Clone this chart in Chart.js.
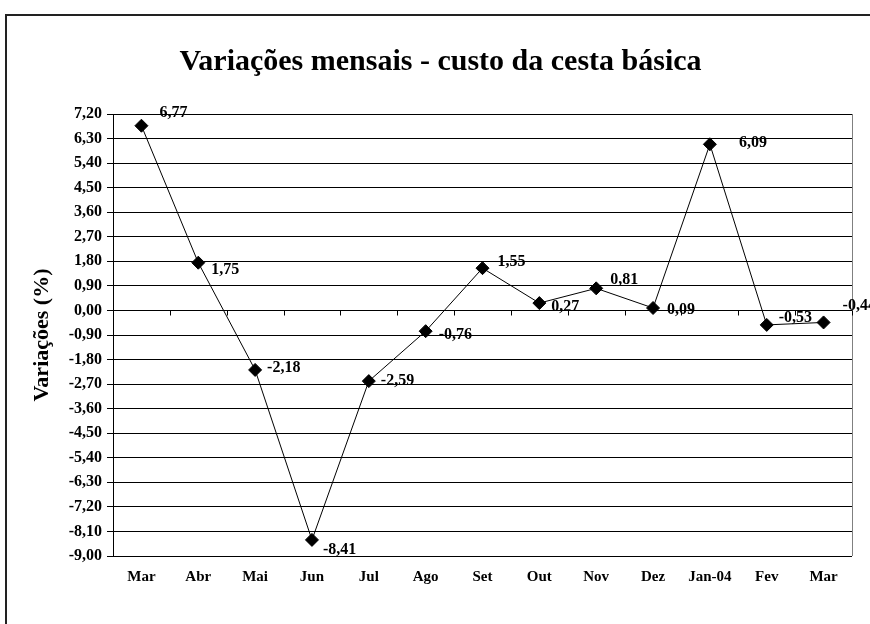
<!DOCTYPE html>
<html>
<head>
<meta charset="utf-8">
<script src="https://cdn.jsdelivr.net/npm/chart.js@4/dist/chart.umd.min.js"></script>
<style>
  html, body { margin: 0; padding: 0; background: #fff; }
  #wrap { width: 870px; height: 624px; position: relative; }
</style>
</head>
<body>
<div id="wrap"><canvas id="c" width="870" height="624"></canvas></div>
<script>
const categories = ['Mar', 'Abr', 'Mai', 'Jun', 'Jul', 'Ago', 'Set', 'Out', 'Nov', 'Dez', 'Jan-04', 'Fev', 'Mar'];
const variacoes = [6.77, 1.75, -2.18, -8.41, -2.59, -0.76, 1.55, 0.27, 0.81, 0.09, 6.09, -0.53, -0.44];
const yMin = -9.0, yMax = 7.2, yStep = 0.9;
const chartTitle = 'Variações mensais - custo da cesta básica';
const yTitle = 'Variações (%)';

const fmt = v => v.toFixed(2).replace('.', ',');
const SERIF = '"Liberation Serif", "Times New Roman", serif';

// label placement relative to each point (style only)
const labelOffsets = [[18,-13],[13,7],[12,-2],[11,10],[12,0],[13,4],[15,-6],[12,4],[14,-8],[14,2],[29,-1],[12,-7],[19,-17]];

const decor = {
  id: 'decor',
  beforeDraw(chart) {
    const ctx = chart.ctx;
    ctx.save();
    ctx.strokeStyle = '#222';
    ctx.lineWidth = 2;
    ctx.strokeRect(6, 15, 1000, 1000);
    ctx.restore();
  },
  afterDatasetsDraw(chart) {
    const ctx = chart.ctx;
    const a = chart.chartArea;
    const xs = chart.scales.x, ys = chart.scales.y;
    ctx.save();
    // right border of plot area
    ctx.strokeStyle = '#808080';
    ctx.lineWidth = 1;
    ctx.beginPath();
    ctx.moveTo(Math.round(a.right) + 0.5, a.top);
    ctx.lineTo(Math.round(a.right) + 0.5, a.bottom);
    ctx.stroke();
    // category axis at zero with tick marks at boundaries
    const y0 = Math.round(ys.getPixelForValue(0)) + 0.5;
    ctx.strokeStyle = '#000';
    ctx.beginPath();
    const half = (xs.getPixelForValue(1) - xs.getPixelForValue(0)) / 2;
    for (let i = 0; i <= categories.length; i++) {
      const x = Math.round(xs.getPixelForValue(i) - half) + 0.5;
      ctx.moveTo(x, y0);
      ctx.lineTo(x, y0 + 5);
    }
    ctx.stroke();
    // data labels
    const meta = chart.getDatasetMeta(0);
    ctx.fillStyle = '#000';
    ctx.font = 'bold 16px ' + SERIF;
    ctx.textAlign = 'left';
    ctx.textBaseline = 'middle';
    meta.data.forEach((pt, i) => {
      const off = labelOffsets[i] || [12, 0];
      ctx.fillText(fmt(variacoes[i]), pt.x + off[0], pt.y + off[1]);
    });
    ctx.restore();
  }
};

new Chart(document.getElementById('c'), {
  type: 'line',
  data: {
    labels: categories,
    datasets: [{
      data: variacoes,
      borderColor: '#000',
      borderWidth: 1,
      backgroundColor: '#000',
      pointStyle: 'rectRot',
      pointRadius: 6.5,
      pointHoverRadius: 6.5,
      pointBackgroundColor: '#000',
      pointBorderColor: '#000',
      tension: 0,
      fill: false
    }]
  },
  options: {
    responsive: false,
    animation: false,
    devicePixelRatio: 1,
    layout: { padding: { left: 29, right: 18, top: 0, bottom: 28 } },
    plugins: {
      legend: { display: false },
      tooltip: { enabled: false },
      title: {
        display: true,
        text: chartTitle,
        color: '#000',
        font: { family: SERIF, size: 30, weight: 'bold' },
        padding: { top: 44, bottom: 34 }
      }
    },
    scales: {
      x: {
        type: 'category',
        offset: true,
        grid: { display: false, drawTicks: false },
        border: { display: false },
        ticks: {
          color: '#000',
          font: { family: SERIF, size: 15, weight: 'bold' },
          padding: 12,
          maxRotation: 0,
          autoSkip: false
        },
        afterFit(s) { s.height = 40; }
      },
      y: {
        min: yMin,
        max: yMax,
        grid: { color: '#000', lineWidth: 1, tickLength: 6, tickColor: '#000' },
        border: { display: true, color: '#000', width: 1 },
        ticks: {
          stepSize: yStep,
          color: '#000',
          padding: 5,
          font: { family: SERIF, size: 16, weight: 'bold' },
          callback: v => fmt(v)
        },
        title: {
          display: true,
          text: yTitle,
          color: '#000',
          font: { family: SERIF, size: 22, weight: 'bold' },
          padding: 0
        },
        afterFit(s) { s.width = 84; }
      }
    }
  },
  plugins: [decor]
});
</script>
</body>
</html>
